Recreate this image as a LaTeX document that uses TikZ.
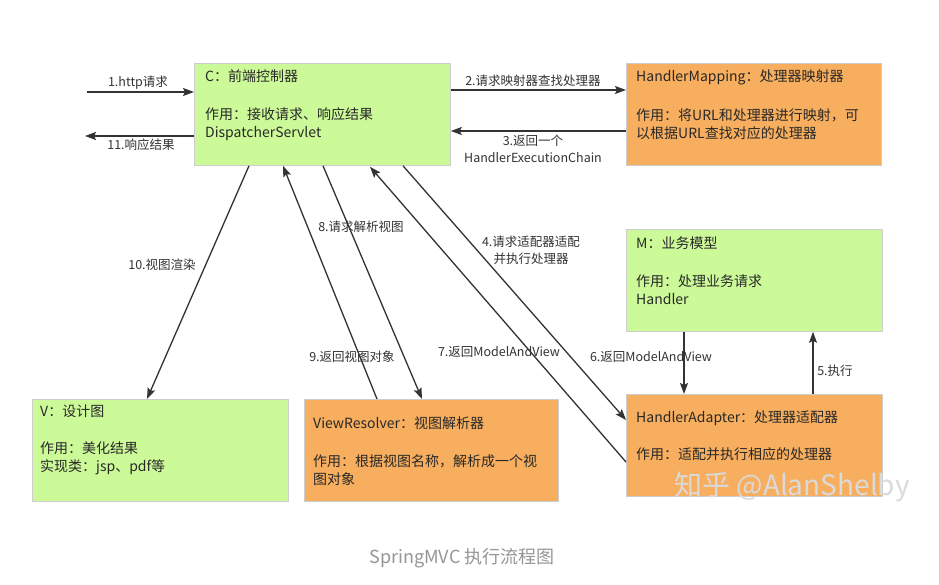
\documentclass[tikz,border=0pt]{standalone}
\usepackage{fontspec}
\setmainfont{Noto Sans CJK SC}
\usetikzlibrary{arrows.meta,calc}
\definecolor{gbox}{RGB}{204,250,152}
\definecolor{obox}{RGB}{247,174,94}
\definecolor{bline}{RGB}{205,205,205}
\definecolor{ink}{RGB}{51,51,51}
\definecolor{boxink}{RGB}{40,40,40}
\definecolor{capgray}{RGB}{150,150,150}
\definecolor{wmark}{RGB}{218,218,218}
\begin{document}
\begin{tikzpicture}[x=1pt,y=-1pt,
  box/.style={draw=bline, line width=0.8pt, anchor=north west, inner sep=0pt, minimum height=102pt},
  gbx/.style={box, fill=gbox},
  obx/.style={box, fill=obox},
  txt/.style={anchor=west, inner sep=0pt, font=\fontsize{14}{18}\selectfont, text=boxink, align=left},
  lbl/.style={inner sep=0pt, font=\fontsize{12.5}{17}\selectfont, text=ink, align=center},
  arr/.style={draw=ink, line width=1.3pt, -{Stealth[length=11pt,width=8pt,inset=2pt]}}
]
\fill[white] (0,0) rectangle (939,585);
\useasboundingbox (0,0) rectangle (939,585);

% boxes
\node[gbx, minimum width=256pt] (C)  at (194,63)  {};
\node[obx, minimum width=255pt] (HM) at (626,63)  {};
\node[gbx, minimum width=256pt] (M)  at (626,229) {};
\node[obx, minimum width=256pt] (HA) at (626,394) {};
\node[gbx, minimum width=256pt] (V)  at (32,399)  {};
\node[obx, minimum width=254pt] (VR) at (304,399) {};

% box texts
\node[txt] (Ct1)  at (205,76)  {C：前端控制器};
\node[txt] (Ct2)  at (205,124) {作用：接收请求、响应结果\\DispatcherServlet};
\node[txt] (HMt1) at (636,77)  {HandlerMapping：处理器映射器};
\node[txt] (HMt2) at (636,124) {作用：将URL和处理器进行映射，可\\以根据URL查找对应的处理器};
\node[txt] (Mt1)  at (636,243) {M：业务模型};
\node[txt] (Mt2)  at (636,290) {作用：处理业务请求\\Handler};
\node[txt] (HAt1) at (636,418) {HandlerAdapter：处理器适配器};
\node[txt] (HAt2) at (636,454) {作用：适配并执行相应的处理器};
\node[txt] (Vt1)  at (40,411)  {V：设计图};
\node[txt] (Vt2)  at (40,458)  {作用：美化结果\\实现类：jsp、pdf等};
\node[txt] (VRt1) at (313,423) {ViewResolver：视图解析器};
\node[txt] (VRt2) at (313,470) {作用：根据视图名称，解析成一个视\\图对象};

% free ends
\coordinate (in1)   at (87,92);
\coordinate (out11) at (85,136);

% connectors
\draw[arr] (in1) -- ($(C.north west)+(0,29)$);
\draw[arr] ($(C.north west)+(0,73)$) -- (out11);
\draw[arr] ($(C.north east)+(0,27)$) -- ($(HM.north west)+(0,27)$);
\draw[arr] ($(HM.north west)+(0,68)$) -- ($(C.north east)+(0,68)$);
\draw[arr] ($(C.south west)+(55,0)$) -- ($(V.north west)+(115,0)$);
\draw[arr] ($(VR.north west)+(73,0)$) -- ($(C.south west)+(89,0)$);
\draw[arr] ($(C.south west)+(129,0)$) -- ($(VR.north west)+(118,0)$);
\draw[arr] ($(HA.north west)+(0,68)$) -- ($(C.south west)+(176,1)$);
\draw[arr] ($(C.south west)+(209,0)$) -- ($(HA.north west)+(0,26)$);
\draw[arr] ($(M.south west)+(58,0)$) -- ($(HA.north west)+(58,0)$);
\draw[arr] ($(HA.north west)+(187,0)$) -- ($(M.south west)+(187,0)$);

% connector labels
\node[lbl] (l1)  at (138,83)  {1.http请求};
\node[lbl] (l11) at (141,145) {11.响应结果};
\node[lbl] (l2)  at (533,81)  {2.请求映射器查找处理器};
\node[lbl] (l3)  at (533,149) {3.返回一个\\HandlerExecutionChain};
\node[lbl] (l10) at (162,265) {10.视图渲染};
\node[lbl] (l8)  at (361,227) {8.请求解析视图};
\node[lbl] (l4)  at (531,250) {4.请求适配器适配\\并执行处理器};
\node[lbl] (l9)  at (352,357) {9.返回视图对象};
\node[lbl] (l7)  at (499,352) {7.返回ModelAndView};
\node[lbl] (l6)  at (651,357) {6.返回ModelAndView};
\node[lbl] (l5)  at (835,371) {5.执行};

% watermark and caption
\node[inner sep=0pt, font=\fontsize{28}{28}\selectfont, text=wmark] (wm) at (792,487) {知乎 @AlanShelby};
\node[inner sep=0pt, font=\fontsize{18}{18}\selectfont, text=capgray] (cap) at (462,558) {SpringMVC 执行流程图};
\end{tikzpicture}
\end{document}
